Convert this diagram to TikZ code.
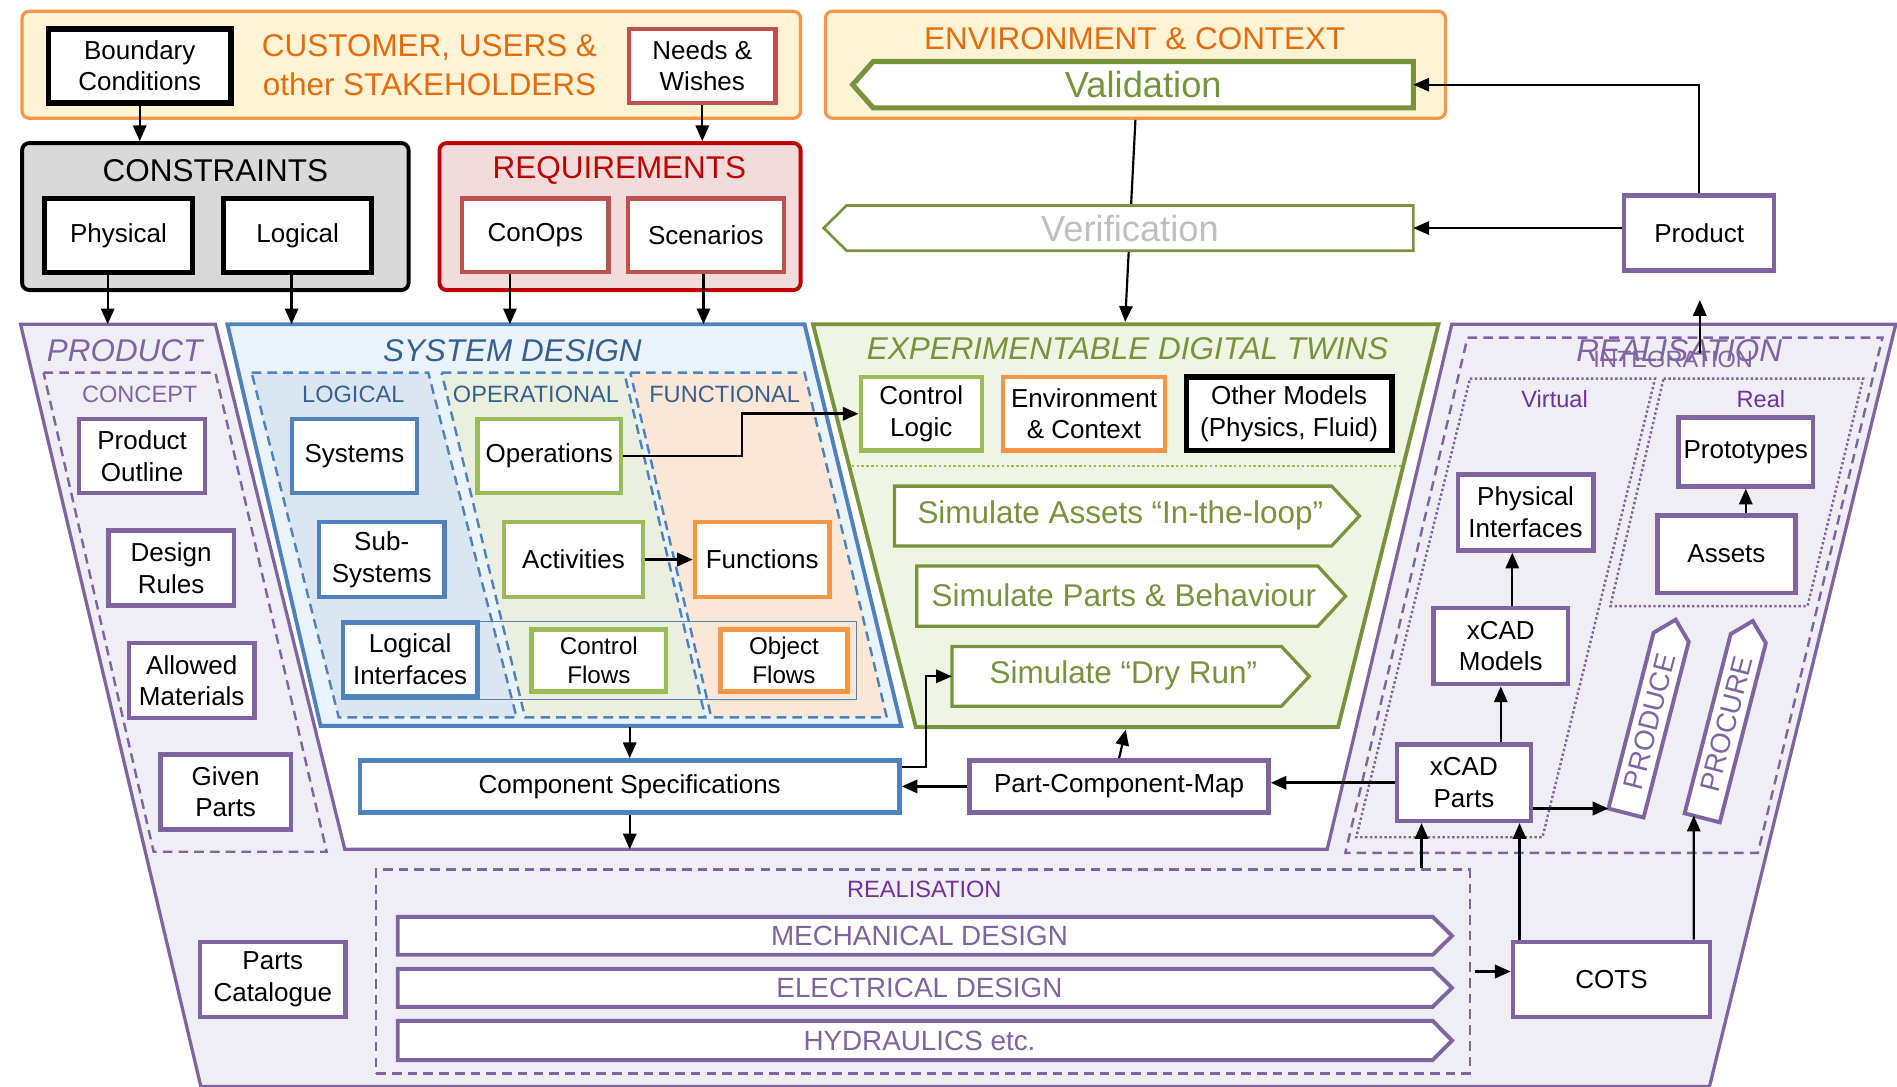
\documentclass[tikz,border=0pt]{standalone}
\usepackage{fontspec}
\setmainfont{Liberation Sans}
\usetikzlibrary{arrows.meta,calc}

\definecolor{cPurple}{HTML}{8064A2}
\definecolor{cPurpleT}{HTML}{7030A0}
\definecolor{cBlue}{HTML}{4F81BD}
\definecolor{cBlueT}{HTML}{376092}
\definecolor{cGreen}{HTML}{9BBB59}
\definecolor{cGreenD}{HTML}{77933C}
\definecolor{cOrange}{HTML}{F79646}
\definecolor{cOrangeT}{HTML}{E46C0A}
\definecolor{cRed}{HTML}{C0504D}
\definecolor{cRedD}{HTML}{C00000}
\definecolor{cYellowF}{HTML}{FFF3D6}
\definecolor{cGreyF}{HTML}{D9D9D9}
\definecolor{cPinkF}{HTML}{F2DCDB}
\definecolor{cLavF}{HTML}{F0EEF5}
\definecolor{cSysF}{HTML}{EAF3F9}
\definecolor{cLogF}{HTML}{DAE6F2}
\definecolor{cOpF}{HTML}{EAF0DD}
\definecolor{cFunF}{HTML}{FCE6D6}
\definecolor{cEdtF}{HTML}{F0F5E3}
\definecolor{cVerT}{HTML}{BFBFBF}

\newcommand{\fntBox}{\fontsize{21.5}{26}\selectfont}
\newcommand{\fntSmall}{\fontsize{20}{24}\selectfont}
\newcommand{\fntHead}{\fontsize{26}{32}\selectfont}
\newcommand{\fntBig}{\fontsize{30}{36}\selectfont}
\newcommand{\fntLane}{\fontsize{19.5}{23}\selectfont}
\newcommand{\fntSim}{\fontsize{26}{31}\selectfont}
\newcommand{\fntDesign}{\fontsize{23}{28}\selectfont}

\tikzset{
  sz/.style 2 args={minimum width=#1pt, minimum height=#2pt},
  box/.style={draw, fill=white, line width=3.7pt, align=center, inner sep=0pt, font=\fntBox, text=black},
  pbox/.style={box, draw=cPurple},
  bbox/.style={box, draw=cBlue},
  gbox/.style={box, draw=cGreen},
  obox/.style={box, draw=cOrange},
  kbox/.style={box, draw=black, line width=4.4pt},
  rbox/.style={box, draw=cRed},
  arr/.style={-{Triangle[length=13pt,width=11pt]}, line width=1.8pt, draw=black},
  frame/.style={line width=2.7pt, rounded corners=6pt, inner sep=0pt},
  lanedash/.style={line width=2pt, dash pattern=on 8pt off 5pt},
  lanedot/.style={line width=2pt, dash pattern=on 2pt off 2pt},
  shapebody/.style={inner sep=0pt},
  simline/.style={draw=cGreenD, line width=2.7pt, fill=white},
  desline/.style={draw=cPurple, line width=3.2pt, fill=white},
}

\begin{document}
\begin{tikzpicture}[x=1pt, y=-1pt]
\useasboundingbox (0,0) rectangle (1568,898);

% ---------- outer funnel: product / realisation lanes ----------
\draw[cPurple, line width=2.7pt, fill=cLavF, line join=miter]
  (17,268) -- (178,268) -- (285,702) -- (1097,702) -- (1200,268) -- (1567,268)
  -- (1413,898) -- (166,898) -- cycle;

% system design and digital twin trapezoids
\draw[cBlue, line width=3.2pt, fill=cSysF] (188,268) -- (665,268) -- (745,600) -- (265,600) -- cycle;
\draw[cGreenD, line width=3.2pt, fill=cEdtF] (672,268) -- (1189,268) -- (1106,601) -- (757,601) -- cycle;

% system design sub-views
\draw[cBlue, lanedash, fill=cLogF] (208,308) -- (354,308) -- (427,593) -- (280,593) -- cycle;
\draw[cBlue, lanedash, fill=cOpF] (365,308) -- (516,308) -- (583,593) -- (434,593) -- cycle;
\draw[cBlue, lanedash, fill=cFunF] (521,308) -- (665,308) -- (733,593) -- (588,593) -- cycle;
\draw[cBlue, line width=1pt] (282,514) rectangle (708,578);

% concept and integration regions
\draw[cPurple, lanedash] (36,308) -- (178,308) -- (270,704) -- (127,704) -- cycle;
\draw[cPurple, lanedash] (1213,279) -- (1556,279) -- (1453,705) -- (1112,705) -- cycle;
\draw[cPurple, lanedot] (1215,313) -- (1368,313) -- (1275,692) -- (1121,692) -- cycle;
\draw[cPurple, lanedot] (1375,313) -- (1540,313) -- (1494,501) -- (1331,501) -- cycle;
\node[draw=cPurple, lanedash, inner sep=0pt, sz={904}{168.6}] (rbox) at (763,803) {};

% twin separator
\draw[cGreen, line width=2pt, dash pattern=on 2pt off 2pt] (704,385) -- (1159,385);

% ---------- top frames ----------
\node[frame, draw=cOrange, fill=cYellowF, sz={643.5}{88.5}] (cust) at (340,53.5) {};
\node[frame, draw=cOrange, fill=cYellowF, sz={512.5}{88.5}] (env) at (938.5,53.5) {};
\node[frame, draw=black, fill=cGreyF, line width=3.2pt, sz={319.5}{121.5}] (cons) at (178,179) {};
\node[frame, draw=cRedD, fill=cPinkF, line width=3.2pt, sz={298.5}{121.5}] (req) at (512.5,179) {};

% ---------- labels ----------
\node[font=\fntHead, text=cOrangeT, align=center] (custlbl) at (355,54) {CUSTOMER, USERS \&\\other STAKEHOLDERS};
\node[font=\fntHead, text=cOrangeT] (envlbl) at (938,32) {ENVIRONMENT \& CONTEXT};
\node[font=\fntHead] (conslbl) at (178,141) {CONSTRAINTS};
\node[font=\fntHead, text=cRedD] (reqlbl) at (512,141) {REQUIREMENTS};
\node[font=\fntHead\itshape, text=cPurple] (prodlbl) at (103,290) {PRODUCT};
\node[font=\fntLane, text=cPurple] (conclbl) at (115.5,326) {CONCEPT};
\node[font=\fntHead\itshape, text=cBlueT] (sdlbl) at (423.5,290) {SYSTEM DESIGN};
\node[font=\fntLane, text=cBlueT] (loglbl) at (292,326) {LOGICAL};
\node[font=\fntLane, text=cBlueT] (oplbl) at (443,326) {OPERATIONAL};
\node[font=\fntLane, text=cBlueT] (funlbl) at (599,326) {FUNCTIONAL};
\node[font=\fntHead\itshape, text=cGreenD] (edtlbl) at (932,288.5) {EXPERIMENTABLE DIGITAL TWINS};
\node[font=\fntHead\itshape, text=cPurple] (reallbl) at (1388,290) {REALISATION};
\node[font=\fntLane, text=cPurple] (intlbl) at (1383,297) {INTEGRATION};
\node[font=\fntLane, text=cPurpleT] (virtlbl) at (1285,330) {Virtual};
\node[font=\fntLane, text=cPurpleT] (reallbl2) at (1455.5,330) {Real};
\node[font=\fntLane, text=cPurpleT] (rboxlbl) at (764,735) {REALISATION};

% ---------- boxes ----------
\node[kbox, sz={151}{61}] (bc) at (115.5,54.5) {Boundary\\Conditions};
\node[rbox, sz={121}{61}] (nw) at (580.5,54.5) {Needs \&\\Wishes};
\node[kbox, sz={122}{61}] (phys) at (98,194.5) {Physical};
\node[kbox, sz={122}{61}] (logi) at (246,194.5) {Logical};
\node[rbox, sz={121}{61}] (conops) at (442.5,194.5) {ConOps};
\node[rbox, sz={129}{61}] (scen) at (583.5,194.5) {Scenarios};
\node[pbox, sz={124}{62}] (product) at (1404.5,192.5) {Product};

\node[pbox, sz={104}{61}] (po) at (117.5,377) {Product\\Outline};
\node[pbox, sz={104}{62}] (dr) at (141.5,469.5) {Design\\Rules};
\node[pbox, sz={104}{62}] (am) at (158.5,562.5) {Allowed\\Materials};
\node[pbox, sz={108}{62}] (gp) at (186.5,654.5) {Given\\Parts};
\node[pbox, sz={120}{62}] (pc) at (225.5,809.5) {Parts\\Catalogue};

\node[bbox, sz={103}{61}] (sys) at (293,377) {Systems};
\node[bbox, sz={104}{62}] (sub) at (315.5,462.5) {Sub-\\Systems};
\node[bbox, sz={111}{61}] (li) at (339,545) {Logical\\Interfaces};
\node[gbox, sz={119}{61}] (ops) at (454,377) {Operations};
\node[gbox, sz={115}{62}] (act) at (474,462.5) {Activities};
\node[gbox, sz={111}{51}, font=\fntSmall] (cf) at (495,546) {Control\\Flows};
\node[obox, sz={111}{62}] (fun) at (630,462.5) {Functions};
\node[obox, sz={105}{51}, font=\fntSmall] (of) at (648,546) {Object\\Flows};

\node[gbox, sz={100}{61}] (cl) at (761.5,342) {Control\\Logic};
\node[obox, sz={134}{61}] (ec) at (896,342) {Environment\\\& Context};
\node[kbox, sz={170}{61}] (om) at (1065.5,342) {Other Models\\(Physics, Fluid)};

\node[bbox, sz={446}{43}] (cs) at (520.5,650) {Component Specifications};
\node[pbox, sz={247}{43}] (pcm) at (925,650) {Part-Component-Map};

\node[pbox, sz={112}{63}] (pi) at (1261,423.5) {Physical\\Interfaces};
\node[pbox, sz={111}{63}] (xm) at (1240.5,534) {xCAD\\Models};
\node[pbox, sz={111}{63}] (xp) at (1210,647) {xCAD\\Parts};
\node[pbox, sz={111}{57}] (proto) at (1443,373.5) {Prototypes};
\node[pbox, sz={114}{64}] (assets) at (1427,458) {Assets};
\node[pbox, sz={163}{62}] (cots) at (1332,809.5) {COTS};

% ---------- validation / verification ----------
\draw[arr] (env.south) -- (930,266) coordinate (edttop);

\node[shapebody, sz={446}{38}] (val) at (945,70) {};
\draw[cGreenD, line width=4.2pt, fill=white] (val.north west) -- (val.north east) -- (val.south east)
  -- (val.south west) -- ($(val.west)+(-17,0)$) -- cycle;
\node[font=\fntBig, text=cGreenD] (valtxt) at (val) {Validation};

\node[shapebody, sz={468}{37}] (ver) at (934,188.5) {};
\draw[cGreenD, line width=2.2pt, fill=white] (ver.north west) -- (ver.north east) -- (ver.south east)
  -- (ver.south west) -- ($(ver.west)+(-19,0)$) -- cycle;
\node[font=\fntBig, text=cVerT] (vertxt) at (ver) {Verification};

% ---------- simulation arrows ----------
\node[shapebody, sz={361}{49}] (simA) at (920,426.5) {};
\draw[simline] (simA.north west) -- (simA.north east) -- ($(simA.east)+(23,0)$) -- (simA.south east) -- (simA.south west) -- cycle;
\node[font=\fntSim, text=cGreenD] (simAtxt) at (926,426) {Simulate Assets “In-the-loop”};

\node[shapebody, sz={331}{49.5}] (simP) at (923.5,492.75) {};
\draw[simline] (simP.north west) -- (simP.north east) -- ($(simP.east)+(23,0)$) -- (simP.south east) -- (simP.south west) -- cycle;
\node[font=\fntSim, text=cGreenD] (simPtxt) at (929,492) {Simulate Parts \& Behaviour};

\node[shapebody, sz={272}{49}] (simD) at (923,559) {};
\draw[simline] (simD.north west) -- (simD.north east) -- ($(simD.east)+(23,0)$) -- (simD.south east) -- (simD.south west) -- cycle;
\node[font=\fntSim, text=cGreenD] (simDtxt) at (928.5,558) {Simulate “Dry Run”};

% ---------- design disciplines ----------
\node[shapebody, sz={855}{31}] (mech) at (756.5,773.5) {};
\draw[desline] (mech.north west) -- (mech.north east) -- ($(mech.east)+(16,0)$) -- (mech.south east) -- (mech.south west) -- cycle;
\node[font=\fntDesign, text=cPurple] (mechtxt) at (760,773.5) {MECHANICAL DESIGN};

\node[shapebody, sz={855}{31}] (elec) at (756.5,816.5) {};
\draw[desline] (elec.north west) -- (elec.north east) -- ($(elec.east)+(16,0)$) -- (elec.south east) -- (elec.south west) -- cycle;
\node[font=\fntDesign, text=cPurple] (electxt) at (760,816.5) {ELECTRICAL DESIGN};

\node[shapebody, sz={855}{32}] (hyd) at (756.5,860) {};
\draw[desline] (hyd.north west) -- (hyd.north east) -- ($(hyd.east)+(16,0)$) -- (hyd.south east) -- (hyd.south west) -- cycle;
\node[font=\fntDesign, text=cPurple] (hydtxt) at (760,860) {HYDRAULICS etc.};

% ---------- produce / procure ----------
\begin{scope}[shift={(1344,672)}, rotate=75.6]
  \draw[desline] (0,-15) -- (150,-15) -- (165,0) -- (150,15) -- (0,15) -- cycle;
  \node[font=\fntDesign, text=cPurple, rotate=75.6, inner sep=0pt] (produce) at (78,0) {PRODUCE};
  \coordinate (prodin) at (0,-15);
\end{scope}
\begin{scope}[shift={(1407,676)}, rotate=75.6]
  \draw[desline] (0,-15) -- (153,-15) -- (168,0) -- (153,15) -- (0,15) -- cycle;
  \node[font=\fntDesign, text=cPurple, rotate=75.6, inner sep=0pt] (procure) at (80,0) {PROCURE};
  \coordinate (procin) at (0,-7.2);
\end{scope}

% ---------- connectors ----------
\coordinate (ptop) at (0,268);
\draw[arr] (bc.south) -- (bc.south |- cons.north);
\draw[arr] (nw.south) -- (nw.south |- req.north);
\draw[arr] ([xshift=-9pt]phys.south) -- ([xshift=-9pt]phys.south |- ptop);
\draw[arr] ([xshift=-5pt]logi.south) -- ([xshift=-5pt]logi.south |- ptop);
\draw[arr] ([xshift=-21pt]conops.south) -- ([xshift=-21pt]conops.south |- ptop);
\draw[arr] ([xshift=-2pt]scen.south) -- ([xshift=-2pt]scen.south |- ptop);

\draw[arr] (product.west |- ver.east) -- (ver.east);
\draw[arr] (product.north) |- (val.east);
\coordinate (prtail) at (1405,292);
\coordinate (prtip) at (1405,248);
\draw[arr] (prtail) -- (prtip);

\draw[arr, line width=2.2pt] (ops.east) -- ++(98,0) |- (cl.west);
\draw[arr, line width=2.2pt] (act.east) -- (fun.west);
\coordinate (sdbot) at (520.5,601);
\draw[arr] (sdbot) -- (sdbot |- cs.north);
\coordinate (notchbot) at (520.5,702);
\draw[arr] (cs.south) -- (cs.south |- notchbot);
\draw[arr] ([yshift=16pt]cs.east) -- ++(20,0) |- (simD.west);
\draw[arr, line width=2.2pt] (pcm.west) -- (pcm.west -| cs.east);
\coordinate (edtbot) at (930.5,603);
\draw[arr] (pcm.north) -- (edtbot);
\draw[arr, line width=2.2pt] (xp.west) -- (xp.west -| pcm.east);
\draw[arr, line width=2.2pt] (xp.east |- prodin) -- (prodin);
\draw[arr] ([xshift=9.5pt]xm.north) -- ([xshift=9.5pt]xm.north |- pi.south);
\draw[arr] (xm.south |- xp.north) -- (xm.south);
\draw[arr] (proto.south |- assets.north) -- (proto.south);
\draw[arr] ([xshift=-76pt]cots.north) -- ([xshift=-76pt]cots.north |- xp.south);
\draw[arr] ([xshift=68pt]cots.north) -- (procin);
\draw[arr] ([xshift=412pt]rbox.north) -- ([xshift=412pt]rbox.north |- xp.south);
\draw[arr, line width=2.2pt] ([xshift=3pt]rbox.east) -- (rbox.east -| cots.west);
\end{tikzpicture}
\end{document}
